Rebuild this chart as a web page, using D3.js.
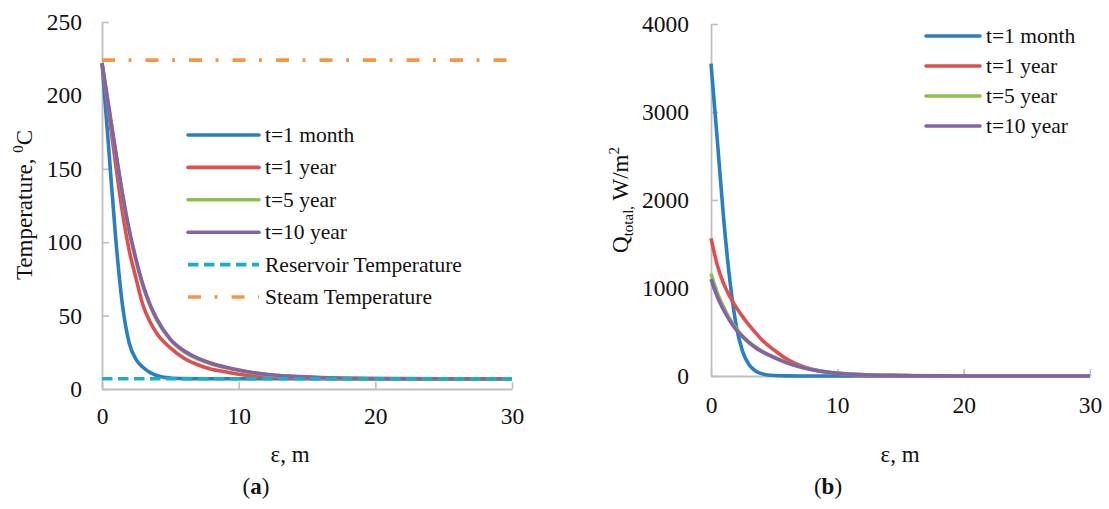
<!DOCTYPE html>
<html>
<head>
<meta charset="utf-8">
<script src="https://cdn.jsdelivr.net/npm/d3@7"></script>
<style>
  body { margin: 0; background: #fff; }
  svg { display: block; }
  text { font-family: "Liberation Serif", "Times New Roman", serif; fill: #111; }
</style>
</head>
<body>
<svg id="fig" width="1109" height="509"></svg>
<script>
// distance from the wellbore wall, m
const eps = [0, 0.5, 1, 1.5, 2, 2.5, 3, 3.5, 4, 5, 6, 7, 8, 9, 10, 12, 14, 16, 18, 20, 25, 30];

// (a) temperature profiles, degC
const tempMonth = [222, 163, 103, 57, 31, 20, 14.8, 11.3, 9.2, 7.5, 7.1, 7, 7, 7, 7, 7, 7, 7, 7, 7, 7, 7];
const tempYear  = [222, 188, 153, 120, 94, 75, 57, 46, 38, 28, 21, 16.5, 13.5, 11.7, 10, 8.2, 7.5, 7.2, 7.05, 7, 7, 7];
const tempFive  = [222, 191, 161, 132, 107, 87, 70, 57, 47, 33.5, 25.5, 20.5, 17, 14.6, 12.7, 9.8, 8.5, 7.7, 7.3, 7.1, 7, 7];
const tempTen   = [222, 192, 162, 133, 108, 88, 71, 58, 48, 34, 26, 21, 17.5, 15, 13, 10, 8.6, 7.8, 7.3, 7.1, 7, 7];
const reservoirTemp = 7;
const steamTemp = 224;

// (b) total heat flux, W/m2
const qMonth = [3550, 2680, 1790, 1080, 570, 280, 130, 60, 27, 5, 1, 0, 0, 0, 0, 0, 0, 0, 0, 0, 0, 0];
const qYear  = [1565, 1260, 1050, 900, 780, 675, 580, 495, 415, 295, 192, 122, 76, 46, 28, 10, 4, 1.5, 0.5, 0, 0, 0];
const qFive  = [1165, 945, 780, 645, 540, 455, 388, 332, 285, 214, 154, 108, 75, 50, 33, 16, 7.5, 3.7, 1.6, 0.8, 0.2, 0];
const qTen   = [1100, 900, 750, 625, 525, 445, 380, 325, 280, 210, 150, 105, 72, 48, 32, 15, 7, 3.5, 1.5, 0.7, 0.2, 0];

const seriesNames = ["t=1 month", "t=1 year", "t=5 year", "t=10 year"];
const refNames = ["Reservoir Temperature", "Steam Temperature"];
const xTicks = [0, 10, 20, 30];
const tempTicks = [0, 50, 100, 150, 200, 250];
const qTicks = [0, 1000, 2000, 3000, 4000];

const colors = ["#2a7ec2", "#de4f4f", "#8fbf4f", "#8462a6"];
const reservoirColor = "#18afc8";
const steamColor = "#f7963f";
const axisColor = "#bfbfbf";
const lineW = 3.6;
const steamDash = "13,13.5,3,14";
const resDash = "10.5,5.5";

const svg = d3.select("#fig");

function drawAxes(g, x, y, yTickVals, xPad, yPad) {
  const ax = g.append("g")
    .attr("transform", `translate(0,${y(0)})`)
    .call(d3.axisBottom(x).tickValues(xTicks).tickFormat(d3.format("d"))
      .tickSize(-7).tickSizeOuter(0).tickPadding(xPad));
  const ay = g.append("g")
    .attr("transform", `translate(${x(0)},0)`)
    .call(d3.axisLeft(y).tickValues(yTickVals).tickFormat(d3.format("d"))
      .tickSize(-7).tickSizeOuter(0).tickPadding(yPad));
  [ax, ay].forEach(a => {
    a.attr("font-family", "Liberation Serif, Times New Roman, serif");
    a.selectAll("path.domain").attr("stroke", axisColor).attr("stroke-width", 1.8);
    a.selectAll(".tick line").attr("stroke", axisColor).attr("stroke-width", 1.6);
    a.selectAll(".tick text").attr("font-size", 23.5).attr("fill", "#111");
  });
}

function drawLine(g, x, y, vals, color, dash) {
  const line = d3.line().x((d, i) => x(eps[i])).y(d => y(d)).curve(d3.curveMonotoneX);
  g.append("path").datum(vals)
    .attr("d", line)
    .attr("fill", "none")
    .attr("stroke", color)
    .attr("stroke-width", lineW)
    .attr("stroke-linejoin", "round")
    .attr("stroke-dasharray", dash || null);
}

function legend(g, x0, y0, step, items) {
  items.forEach((it, i) => {
    const yy = y0 + i * step;
    g.append("line")
      .attr("x1", x0).attr("x2", x0 + (it.len || 71))
      .attr("y1", yy).attr("y2", yy)
      .attr("stroke", it.color)
      .attr("stroke-width", lineW)
      .attr("stroke-linecap", it.dash ? "butt" : "round")
      .attr("stroke-dasharray", it.dash || null);
    g.append("text")
      .attr("x", x0 + (it.len || 71) + 6)
      .attr("y", yy + 7)
      .attr("font-size", 21.5)
      .text(it.name);
  });
}

// ---------- (a) temperature ----------
const xA = d3.scaleLinear().domain([0, 30]).range([102, 512]);
const yA = d3.scaleLinear().domain([0, 250]).range([389, 22]);
const gA = svg.append("g");
drawAxes(gA, xA, yA, tempTicks, 18, 20);
[tempMonth, tempYear, tempFive, tempTen].forEach((v, i) => drawLine(gA, xA, yA, v, colors[i]));
drawLine(gA, xA, yA, eps.map(() => reservoirTemp), reservoirColor, resDash);
drawLine(gA, xA, yA, eps.map(() => steamTemp), steamColor, steamDash);

legend(gA, 188, 135, 32.4, [
  ...seriesNames.map((n, i) => ({ name: n, color: colors[i] })),
  { name: refNames[0], color: reservoirColor, dash: resDash },
  { name: refNames[1], color: steamColor, dash: steamDash }
]);

gA.append("text")
  .attr("transform", "translate(32,205) rotate(-90)")
  .attr("text-anchor", "middle")
  .attr("font-size", 23)
  .call(t => {
    t.append("tspan").text("Temperature, ");
    t.append("tspan").attr("font-size", 15).attr("dy", -9).text("0");
    t.append("tspan").attr("dy", 9).text("C");
  });
gA.append("text").attr("x", 290).attr("y", 462).attr("text-anchor", "middle")
  .attr("font-size", 23).text("ε, m");
gA.append("text").attr("x", 256).attr("y", 494).attr("text-anchor", "middle")
  .attr("font-size", 23)
  .call(t => {
    t.append("tspan").text("(");
    t.append("tspan").attr("font-weight", "bold").text("a");
    t.append("tspan").text(")");
  });

// ---------- (b) heat flux ----------
const xB = d3.scaleLinear().domain([0, 30]).range([711, 1090]);
const yB = d3.scaleLinear().domain([0, 4000]).range([376, 24]);
const gB = svg.append("g");
drawAxes(gB, xB, yB, qTicks, 20, 22);
[qMonth, qYear, qFive, qTen].forEach((v, i) => drawLine(gB, xB, yB, v, colors[i]));

legend(gB, 926, 36, 30, seriesNames.map((n, i) => ({ name: n, color: colors[i], len: 54 })));

gB.append("text")
  .attr("transform", "translate(628,200) rotate(-90)")
  .attr("text-anchor", "middle")
  .attr("font-size", 23)
  .call(t => {
    t.append("tspan").text("Q");
    t.append("tspan").attr("font-size", 15).attr("dy", 5).text("total,");
    t.append("tspan").attr("dy", -5).text(" W/m");
    t.append("tspan").attr("font-size", 15).attr("dy", -9).text("2");
  });
gB.append("text").attr("x", 900).attr("y", 462).attr("text-anchor", "middle")
  .attr("font-size", 23).text("ε, m");
gB.append("text").attr("x", 828).attr("y", 494).attr("text-anchor", "middle")
  .attr("font-size", 23)
  .call(t => {
    t.append("tspan").text("(");
    t.append("tspan").attr("font-weight", "bold").text("b");
    t.append("tspan").text(")");
  });
</script>
</body>
</html>
